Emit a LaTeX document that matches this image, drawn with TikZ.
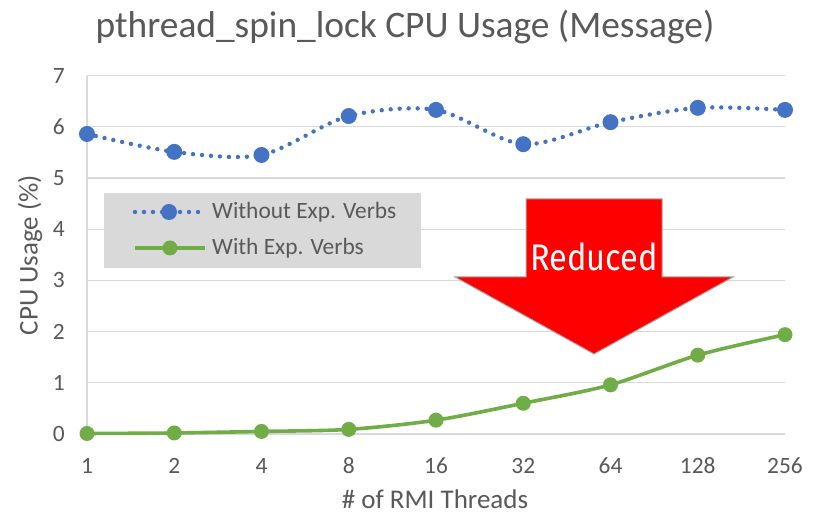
\documentclass[tikz,border=0pt]{standalone}
\usepackage{fontspec}
\setmainfont{Carlito}
\newfontfamily\redfont{Fira Sans}
\definecolor{blueC}{HTML}{4472C4}
\definecolor{greenC}{HTML}{70AD47}
\definecolor{gridC}{HTML}{D9D9D9}
\definecolor{txtC}{HTML}{595959}
\definecolor{legC}{HTML}{D9D9D9}
\definecolor{arrowC}{HTML}{FF0000}
\definecolor{arrowE}{HTML}{A6A6A6}
\begin{document}
\begin{tikzpicture}[x=1pt,y=1pt,
  gridline/.style={draw=gridC, line width=1.3pt},
  bluemk/.style={circle, fill=blueC, inner sep=0pt, minimum size=16pt},
  greenmk/.style={circle, fill=greenC, inner sep=0pt, minimum size=15pt},
  blueline/.style={draw=blueC, line width=4.4pt, line cap=round, dash pattern=on 0pt off 9pt},
  greenline/.style={draw=greenC, line width=3.6pt},
  ticklbl/.style={text=txtC, font=\fontsize{23.4}{28}\selectfont, inner sep=0pt},
  axtitle/.style={text=txtC, font=\fontsize{27}{32}\selectfont, inner sep=0pt},
  leglbl/.style={text=txtC, font=\fontsize{23.4}{28}\selectfont, inner sep=0pt, anchor=west},
]
\useasboundingbox (0,0) rectangle (814,516);
\fill[white] (0,0) rectangle (814,516);

% title
\node[text=txtC, font=\fontsize{37.4}{43}\selectfont, inner sep=0pt] (title) at (405,489) {pthread\_spin\_lock CPU Usage (Message)};

\begin{scope}[shift={(-0.25,82)}, x=87.25pt, y=51.2pt]
  % grid
  \foreach \v in {1,...,7} \draw[gridline] (1,\v) -- (9,\v);
  \draw[gridline] (1,0) -- (9,0);
  \draw[gridline] (1,0) -- (1,7);
  % y tick labels
  \foreach \v in {0,...,7} \node[ticklbl, anchor=east] (y\v) at ([xshift=-22pt]1,\v) {\v};
  % x tick labels
  \foreach \i/\t in {1/1,2/2,3/4,4/8,5/16,6/32,7/64,8/128,9/256}
    \node[ticklbl] (x\i) at ([yshift=-32pt]\i,0) {\t};

  % data points
  \foreach \i/\v in {1/5.86,2/5.51,3/5.45,4/6.21,5/6.33,6/5.66,7/6.09,8/6.37,9/6.33}
    \coordinate (b\i) at (\i,\v);
  \foreach \i/\v in {1/0.01,2/0.02,3/0.05,4/0.09,5/0.27,6/0.60,7/0.96,8/1.54,9/1.94}
    \coordinate (g\i) at (\i,\v);
\end{scope}

% Reduced arrow
\filldraw[fill=arrowC, draw=arrowE, line width=1pt, line join=miter]
  (526,317) -- (662,317) -- (662,239) -- (733,239) -- (594,162) -- (455,239) -- (526,239) -- cycle;
\node[text=white, font=\redfont\fontsize{37}{42}\selectfont, inner sep=0pt] (reduced) at (594,259) {\scalebox{0.88}[1]{Reduced}};

% series lines
\draw[blueline] plot[smooth, tension=0.5] coordinates {(b1) (b2) (b3) (b4) (b5) (b6) (b7) (b8) (b9)};
\draw[greenline] plot[smooth, tension=0.5] coordinates {(g1) (g2) (g3) (g4) (g5) (g6) (g7) (g8) (g9)};
\foreach \i in {1,...,9} {
  \node[bluemk] (bm\i) at (b\i) {};
  \node[greenmk] (gm\i) at (g\i) {};
}

% legend
\fill[legC] (104,248) rectangle (421,323);
\coordinate (lb1) at (135,304);
\coordinate (lb2) at (201,304);
\coordinate (lg1) at (135,268);
\coordinate (lg2) at (205,268);
\draw[blueline] (lb1) -- (lb2);
\node[bluemk] (lbm) at (169,304) {};
\draw[greenline] (lg1) -- (lg2);
\node[greenmk] (lgm) at (170,268) {};
\node[leglbl] (leg1) at (212,304) {Without Exp. Verbs};
\node[leglbl] (leg2) at (212,268) {With Exp. Verbs};

% axis titles
\node[axtitle] (xtitle) at (435,17) {\# of RMI Threads};
\node[axtitle, rotate=90] (ytitle) at (30,261) {CPU Usage (\%)};
\end{tikzpicture}
\end{document}
